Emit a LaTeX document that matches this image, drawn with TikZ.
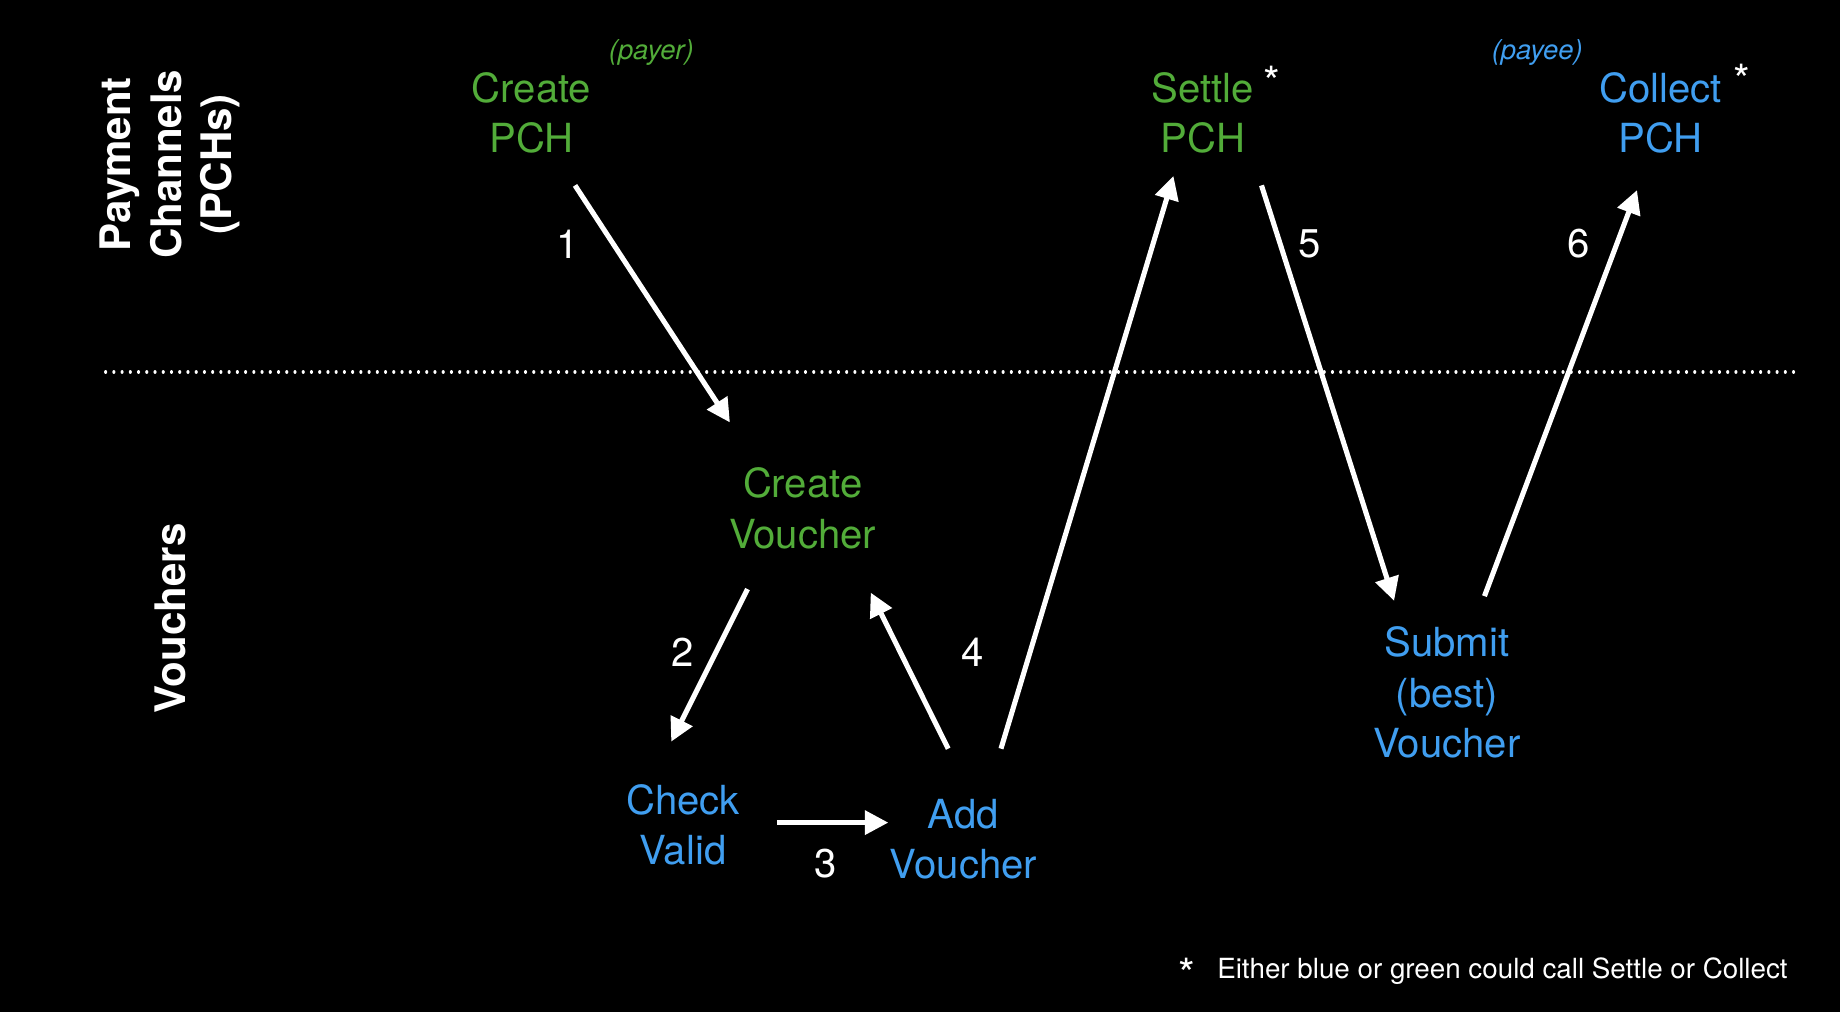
\documentclass[tikz,border=0pt]{standalone}
\usepackage{fontspec}
\setmainfont{TeX Gyre Heros}
\usetikzlibrary{arrows.meta}
\definecolor{pgreen}{RGB}{82,172,57}
\definecolor{pblue}{RGB}{64,158,240}
\begin{document}
\begin{tikzpicture}[x=0.6pt,y=-0.6pt,
  lbl/.style={inner sep=0pt,align=center,font=\fontsize{20.5}{25.8}\selectfont},
  gtxt/.style={lbl,text=pgreen},
  btxt/.style={lbl,text=pblue},
  num/.style={inner sep=0pt,text=white,font=\fontsize{20.5}{25.8}\selectfont},
  role/.style={inner sep=0pt,font=\fontsize{14}{16}\selectfont\itshape},
  side/.style={inner sep=0pt,align=center,text=white,rotate=90,font=\fontsize{21.5}{25.8}\selectfont\bfseries},
  star/.style={inner sep=0pt,text=white,font=\fontsize{22}{24}\selectfont},
  arr/.style={draw=white,line width=2.6pt,-{Triangle[length=12pt,width=12pt]}}]
\fill[black] (0,0) rectangle (1568,862);
\useasboundingbox (0,0) rectangle (1568,862);

% side labels
\node[side] (lpch) at (145,140) {Payment\\Channels\\(PCHs)};
\node[side] (lvou) at (145,527) {Vouchers};

% divider
\coordinate (dl) at (90,317);
\coordinate (dr) at (1530,317);
\draw[white,line width=1.6pt,line cap=round,dash pattern=on 0.01pt off 4.2pt] (dl) -- (dr);

% nodes
\node[gtxt] (cpch) at (453,96) {Create\\PCH};
\node[role,text=pgreen] (payer) at (555,45) {(payer)};
\node[gtxt] (spch) at (1025,96) {Settle\\PCH};
\node[star] (star1) at (1084,70) {*};
\node[role,text=pblue] (payee) at (1310,45) {(payee)};
\node[btxt] (colpch) at (1415,96) {Collect\\PCH};
\node[star] (star2) at (1484,68) {*};
\node[gtxt] (cvou) at (684,433) {Create\\Voucher};
\node[btxt] (chk) at (582,703) {Check\\Valid};
\node[btxt] (addv) at (821,715) {Add\\Voucher};
\node[btxt] (sub) at (1233,590) {Submit\\(best)\\Voucher};

% arrows
\draw[arr] ([shift={(37,62)}]cpch.center) -- ([shift={(-62,-73)}]cvou.center);
\draw[arr] ([shift={(-47,69)}]cvou.center) -- ([shift={(-10,-71)}]chk.center);
\draw[arr] ([shift={(80,-2)}]chk.center) -- ([shift={(-64,-14)}]addv.center);
\draw[arr] ([shift={(-13,-77)}]addv.center) -- ([shift={(58,72)}]cvou.center);
\draw[arr] ([shift={(32,-77)}]addv.center) -- ([shift={(-25,54)}]spch.center);
\draw[arr] ([shift={(50,62)}]spch.center) -- ([shift={(-45,-78)}]sub.center);
\draw[arr] ([shift={(32,-82)}]sub.center) -- ([shift={(-20,66)}]colpch.center);

% step numbers
\node[num] (n1) at (484,208) {1};
\node[num] (n2) at (582,556) {2};
\node[num] (n3) at (704,736) {3};
\node[num] (n4) at (829,556) {4};
\node[num] (n5) at (1116,208) {5};
\node[num] (n6) at (1345,208) {6};

% footnote
\node[star] (fstar) at (1011,830) {*};
\node[inner sep=0pt,anchor=west,text=white,font=\fontsize{14.2}{16}\selectfont] (foot) at (1037,828) {Either blue or green could call Settle or Collect};
\end{tikzpicture}
\end{document}
